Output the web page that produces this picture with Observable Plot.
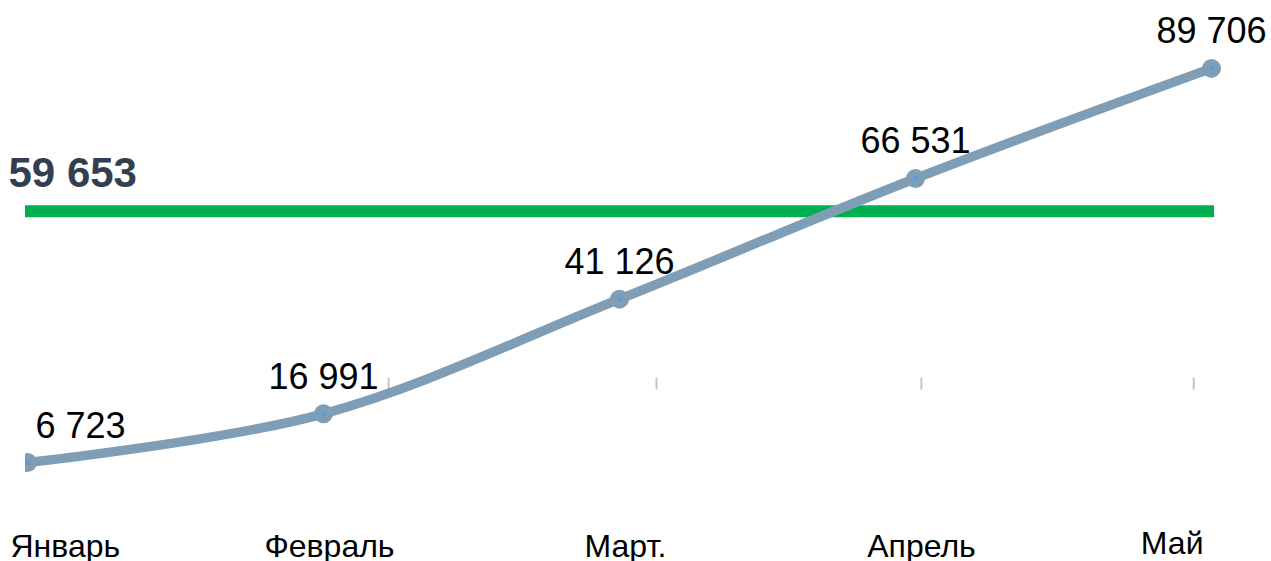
<!DOCTYPE html>
<html>
<head>
<meta charset="utf-8">
<script src="https://cdn.jsdelivr.net/npm/d3@7"></script>
<script src="https://cdn.jsdelivr.net/npm/@observablehq/plot@0.6"></script>
<style>
  html, body { margin: 0; padding: 0; background: #ffffff; overflow: hidden; }
  #chart svg { display: block; }
</style>
</head>
<body>
<div id="chart"></div>
<script>
// ---- data ----
const months = ["Январь", "Февраль", "Март.", "Апрель", "Май"];
const values = [6723, 16991, 41126, 66531, 89706];
const averageValue = 59653;
// faint vertical tick marks visible in the reference (month-index units)
const faintTicks = [1.22, 2.125, 3.02, 3.94];
const faintTickRange = [22000, 24500];

// ---- build ----
const data = months.map((m, i) => ({ i, month: m, value: values[i] }));
const ru = d3.formatLocale({ decimal: ",", thousands: " ", grouping: [3], currency: ["", " ₽"] });
const fmt = ru.format(",d");

const font = "Liberation Sans, Arial, Helvetica, sans-serif";
const lineColor = "#7f9eb6";
const last = data.length - 1;

const chart = Plot.plot({
  width: 1271,
  height: 561,
  marginTop: 0,
  marginBottom: 0,
  marginLeft: 25,
  marginRight: 40,
  style: { fontFamily: font, background: "#ffffff", color: "#000" },
  x: { type: "linear", domain: [0, months.length - 1], range: [27, 1211], axis: null },
  y: { type: "linear", domain: [0, 100000], range: [494, 19], axis: null },
  marks: [
    // faint ticks
    Plot.ruleX(faintTicks, { x: d => d, y1: faintTickRange[0], y2: faintTickRange[1], stroke: "#c4c4c4", strokeWidth: 2 }),
    // average line
    Plot.ruleY([averageValue], { stroke: "#00b050", strokeWidth: 12, insetRight: 17 }),
    Plot.text([averageValue], {
      x: 0, y: d => d, text: d => fmt(d), textAnchor: "start", lineAnchor: "bottom",
      dx: -19, dy: -24, fontSize: 42, fontWeight: "bold", fill: "#333f50"
    }),
    // series line
    Plot.line(data, { x: "i", y: "value", curve: "catmull-rom", stroke: lineColor, strokeWidth: 9.5, clip: "frame" }),
    Plot.dot(data, { x: "i", y: "value", r: 9.5, fill: lineColor, stroke: "none", clip: "frame" }),
    Plot.dot(data, { x: "i", y: "value", r: 2.5, fill: "#5b9bd5", stroke: "none", clip: "frame" }),
    // value labels
    Plot.text(data.filter(d => d.i === 0), {
      x: "i", y: "value", text: d => fmt(d.value), textAnchor: "start", lineAnchor: "bottom",
      dx: 8, dy: -25, fontSize: 36, fill: "#000"
    }),
    Plot.text(data.filter(d => d.i > 0), {
      x: "i", y: "value", text: d => fmt(d.value), textAnchor: "middle", lineAnchor: "bottom",
      dy: -25, fontSize: 36, fill: "#000"
    }),
    // month labels
    Plot.text(data.filter(d => d.i === 0), {
      x: "i", frameAnchor: "bottom", text: "month", textAnchor: "start", lineAnchor: "bottom",
      dx: -17, dy: -5, fontSize: 32, fill: "#000"
    }),
    Plot.text(data.filter(d => d.i > 0 && d.i < last), {
      x: "i", frameAnchor: "bottom", text: "month", textAnchor: "middle", lineAnchor: "bottom",
      dx: 6, dy: -5, fontSize: 32, fill: "#000"
    }),
    Plot.text(data.filter(d => d.i === last), {
      x: "i", frameAnchor: "bottom", text: "month", textAnchor: "end", lineAnchor: "bottom",
      dx: -8, dy: -8, fontSize: 32, fill: "#000"
    })
  ]
});
document.getElementById("chart").appendChild(chart);
</script>
</body>
</html>
